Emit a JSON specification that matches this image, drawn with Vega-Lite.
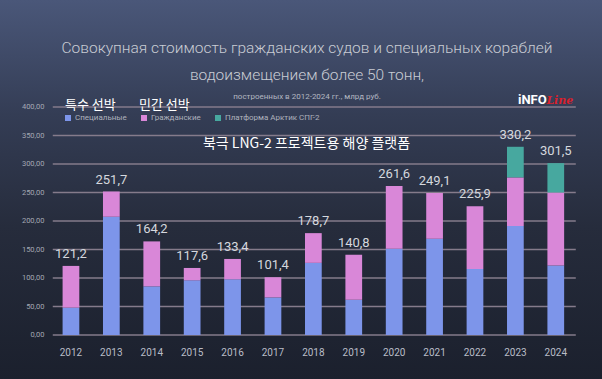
{
  "$schema": "https://vega.github.io/schema/vega-lite/v6.json",
  "width": 602,
  "height": 379,
  "padding": 0,
  "autosize": {"type": "none"},
  "background": "#1c2130",
  "config": {
    "locale": {"number": {"decimal": ",", "thousands": " ", "grouping": [3], "currency": ["", " ₽"]}},
    "view": {
      "stroke": null,
      "fill": {
        "gradient": "linear", "x1": 0, "y1": 0, "x2": 0, "y2": 1,
        "stops": [
          {"offset": 0, "color": "#4a5779"},
          {"offset": 0.3, "color": "#343d55"},
          {"offset": 0.6, "color": "#262c3c"},
          {"offset": 1, "color": "#1b202d"}
        ]
      }
    },
    "font": "Roboto"
  },
  "title": {
    "text": ["Совокупная стоимость гражданских судов и специальных кораблей", "водоизмещением более 50 тонн,"],
    "subtitle": "построенных в 2012-2024 гг., млрд руб.",
    "anchor": "middle",
    "frame": "group",
    "offset": -101,
    "dx": 6,
    "font": "Roboto",
    "fontSize": 15.5,
    "fontWeight": 300,
    "lineHeight": 27,
    "color": "#c9ccd4",
    "subtitleFont": "Roboto",
    "subtitleFontSize": 8,
    "subtitleColor": "#b3b7c1",
    "subtitlePadding": 10
  },
  "datasets": {
    "parts": [
      {"year": "2012", "type": "Специальные", "stackOrder": 1, "value": 48.0},
      {"year": "2012", "type": "Гражданские", "stackOrder": 2, "value": 73.2},
      {"year": "2013", "type": "Специальные", "stackOrder": 1, "value": 207.6},
      {"year": "2013", "type": "Гражданские", "stackOrder": 2, "value": 44.1},
      {"year": "2014", "type": "Специальные", "stackOrder": 1, "value": 85.3},
      {"year": "2014", "type": "Гражданские", "stackOrder": 2, "value": 78.9},
      {"year": "2015", "type": "Специальные", "stackOrder": 1, "value": 95.9},
      {"year": "2015", "type": "Гражданские", "stackOrder": 2, "value": 21.7},
      {"year": "2016", "type": "Специальные", "stackOrder": 1, "value": 97.6},
      {"year": "2016", "type": "Гражданские", "stackOrder": 2, "value": 35.8},
      {"year": "2017", "type": "Специальные", "stackOrder": 1, "value": 65.9},
      {"year": "2017", "type": "Гражданские", "stackOrder": 2, "value": 35.5},
      {"year": "2018", "type": "Специальные", "stackOrder": 1, "value": 126.5},
      {"year": "2018", "type": "Гражданские", "stackOrder": 2, "value": 52.2},
      {"year": "2019", "type": "Специальные", "stackOrder": 1, "value": 61.8},
      {"year": "2019", "type": "Гражданские", "stackOrder": 2, "value": 79.0},
      {"year": "2020", "type": "Специальные", "stackOrder": 1, "value": 151.2},
      {"year": "2020", "type": "Гражданские", "stackOrder": 2, "value": 110.4},
      {"year": "2021", "type": "Специальные", "stackOrder": 1, "value": 168.8},
      {"year": "2021", "type": "Гражданские", "stackOrder": 2, "value": 80.3},
      {"year": "2022", "type": "Специальные", "stackOrder": 1, "value": 115.9},
      {"year": "2022", "type": "Гражданские", "stackOrder": 2, "value": 110.0},
      {"year": "2023", "type": "Специальные", "stackOrder": 1, "value": 191.2},
      {"year": "2023", "type": "Гражданские", "stackOrder": 2, "value": 85.3},
      {"year": "2023", "type": "Платформа Арктик СПГ-2", "stackOrder": 3, "value": 53.7},
      {"year": "2024", "type": "Специальные", "stackOrder": 1, "value": 121.8},
      {"year": "2024", "type": "Гражданские", "stackOrder": 2, "value": 128.2},
      {"year": "2024", "type": "Платформа Арктик СПГ-2", "stackOrder": 3, "value": 51.5}
    ],
    "totals": [
      {"year": "2012", "total": 121.2},
      {"year": "2013", "total": 251.7},
      {"year": "2014", "total": 164.2},
      {"year": "2015", "total": 117.6},
      {"year": "2016", "total": 133.4},
      {"year": "2017", "total": 101.4},
      {"year": "2018", "total": 178.7},
      {"year": "2019", "total": 140.8},
      {"year": "2020", "total": 261.6},
      {"year": "2021", "total": 249.1},
      {"year": "2022", "total": 225.9},
      {"year": "2023", "total": 330.2},
      {"year": "2024", "total": 301.5}
    ],
    "grid": [
      {"v": 0}, {"v": 50}, {"v": 100}, {"v": 150}, {"v": 200},
      {"v": 250}, {"v": 300}, {"v": 350}, {"v": 400}
    ]
  },
  "layer": [
    {
      "data": {"name": "grid"},
      "mark": {"type": "rule", "color": "#857b8b", "strokeWidth": 1.5},
      "encoding": {
        "y": {
          "field": "v", "type": "quantitative", "title": null,
          "scale": {"domain": [-77.2, 587.7], "nice": false, "zero": false},
          "axis": {
            "values": [0, 50, 100, 150, 200, 250, 300, 350, 400],
            "format": ".2f", "offset": -52, "domain": false, "ticks": false,
            "grid": false, "labelPadding": 8, "labelFontSize": 7.5,
            "labelColor": "#a4a8b3", "title": null
          }
        },
        "x": {
          "datum": "2012", "type": "ordinal", "bandPosition": 0, "title": null,
          "scale": {"paddingInner": 0.1, "paddingOuter": 1, "align": 0.653},
          "axis": {
            "orient": "bottom", "offset": -44, "domain": false, "ticks": false,
            "labelPadding": 12, "labelAngle": 0, "labelFontSize": 10,
            "labelColor": "#b9bdc7", "title": null
          }
        },
        "x2": {"datum": "2024", "bandPosition": 1.05}
      }
    },
    {
      "data": {"name": "parts"},
      "mark": {"type": "bar", "width": {"band": 0.46}},
      "encoding": {
        "x": {"field": "year", "type": "ordinal", "title": null},
        "y": {"field": "value", "type": "quantitative", "stack": "zero", "title": null},
        "order": {"field": "stackOrder", "type": "ordinal", "sort": "ascending"},
        "color": {
          "field": "type", "type": "nominal",
          "sort": ["Специальные", "Гражданские", "Платформа Арктик СПГ-2"],
          "scale": {
            "domain": ["Специальные", "Гражданские", "Платформа Арктик СПГ-2"],
            "range": ["#7d95ea", "#d987d8", "#47a89f"]
          },
          "legend": {
            "orient": "none", "legendX": 64, "legendY": 114,
            "direction": "horizontal", "title": null,
            "symbolType": "square", "symbolSize": 36, "symbolStrokeWidth": 0,
            "labelFont": "Roboto", "labelFontSize": 8, "labelColor": "#aeb2bd",
            "columnPadding": 13, "labelOffset": 3
          }
        }
      }
    },
    {
      "data": {"name": "totals"},
      "mark": {"type": "text", "baseline": "alphabetic", "dy": -8, "font": "Roboto", "fontSize": 13, "color": "#d5d8de"},
      "encoding": {
        "x": {"field": "year", "type": "ordinal", "title": null},
        "y": {"field": "total", "type": "quantitative", "title": null},
        "text": {"field": "total", "type": "quantitative", "format": ".1f"}
      }
    },
    {
      "data": {"values": [{"label": "특수 선박"}]},
      "mark": {"type": "text", "align": "left", "baseline": "alphabetic", "dx": -6, "font": "Noto Sans CJK KR", "fontSize": 13, "color": "#ffffff"},
      "encoding": {
        "x": {"datum": "2012", "type": "ordinal"},
        "y": {"datum": 396, "type": "quantitative"},
        "text": {"field": "label"}
      }
    },
    {
      "data": {"values": [{"label": "민간 선박"}]},
      "mark": {"type": "text", "align": "left", "baseline": "alphabetic", "dx": 27.6, "font": "Noto Sans CJK KR", "fontSize": 13, "color": "#ffffff"},
      "encoding": {
        "x": {"datum": "2013", "type": "ordinal"},
        "y": {"datum": 396, "type": "quantitative"},
        "text": {"field": "label"}
      }
    },
    {
      "data": {"values": [{"label": "북극 LNG-2 프로젝트용 해양 플랫폼"}]},
      "mark": {"type": "text", "align": "left", "baseline": "alphabetic", "dx": 10.8, "font": "Noto Sans CJK KR", "fontSize": 14, "color": "#ffffff"},
      "encoding": {
        "x": {"datum": "2015", "type": "ordinal"},
        "y": {"datum": 328, "type": "quantitative"},
        "text": {"field": "label"}
      }
    },
    {
      "data": {"values": [{"label": "iNFO"}]},
      "mark": {"type": "text", "align": "left", "baseline": "alphabetic", "dx": 2.6, "font": "Roboto", "fontSize": 13, "fontWeight": "bold", "color": "#ffffff"},
      "encoding": {
        "x": {"datum": "2023", "type": "ordinal"},
        "y": {"datum": 405, "type": "quantitative"},
        "text": {"field": "label"}
      }
    },
    {
      "data": {"values": [{"label": "Line"}]},
      "mark": {"type": "text", "align": "left", "baseline": "alphabetic", "dx": 31, "fontSize": 11, "fontStyle": "italic", "fontWeight": "bold", "font": "'DejaVu Serif', serif", "color": "#d9202c"},
      "encoding": {
        "x": {"datum": "2023", "type": "ordinal"},
        "y": {"datum": 406, "type": "quantitative"},
        "text": {"field": "label"}
      }
    }
  ]
}
